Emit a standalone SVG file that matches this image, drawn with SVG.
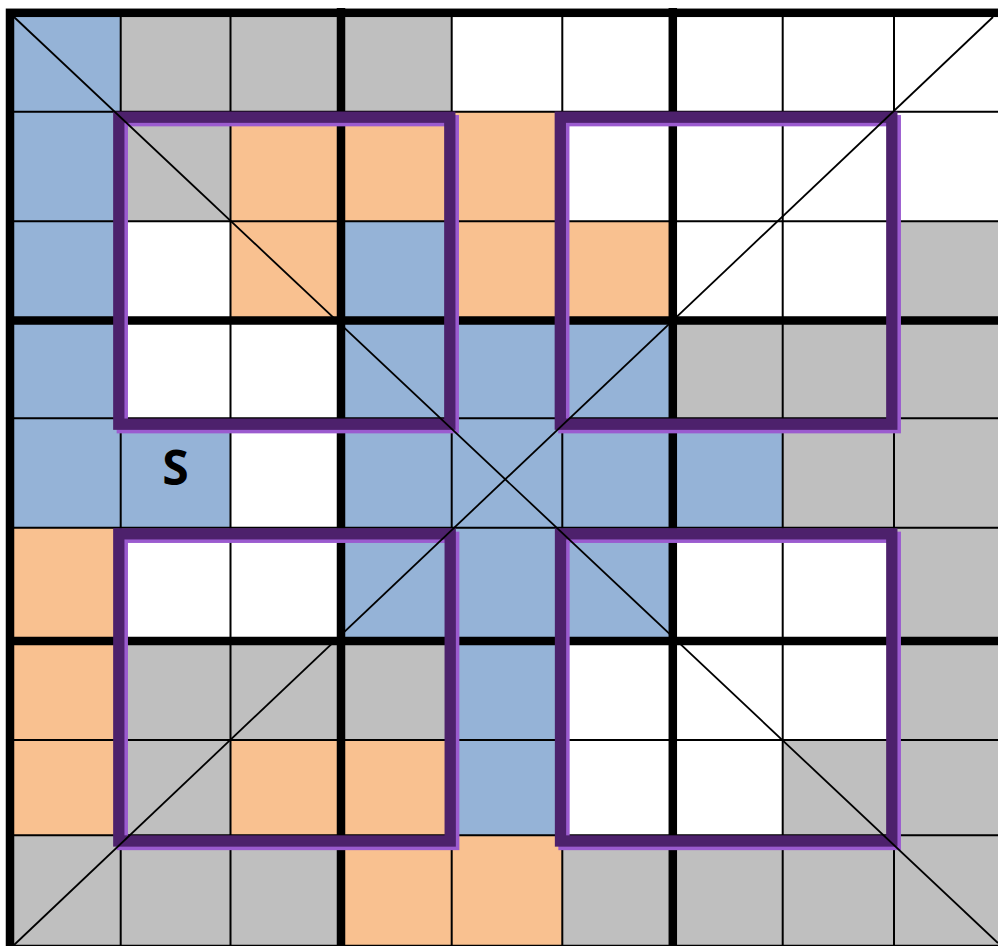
<svg xmlns="http://www.w3.org/2000/svg" width="998" height="946" viewBox="0 0 998 946">
<style>
.w{fill:#FFFFFF}.g{fill:#BFBFBF}.b{fill:#95B3D7}.o{fill:#F9C190}
.thin{stroke:#000;stroke-width:2;fill:none}
.thick{stroke:#000;stroke-width:8.5;fill:none}
.diag{stroke:#000;stroke-width:1.8;fill:none}
.pl{fill:none;stroke:#9B5BCF;stroke-width:11.3}
.pd{fill:none;stroke:#4D216C;stroke-width:11.3}
.lbl{font-family:"Open Sans","Liberation Sans",sans-serif;font-weight:700;font-size:48px;fill:#000}
</style>
<rect x="0" y="0" width="998" height="946" fill="#FFFFFF"/>
<g id="cells">
<!-- row 0 -->
<rect class="b" x="10" y="12.8" width="110.7" height="98.9"/>
<rect class="g" x="120.7" y="12.8" width="109.8" height="98.9"/>
<rect class="g" x="230.5" y="12.8" width="110.5" height="98.9"/>
<rect class="g" x="341" y="12.8" width="110.7" height="98.9"/>
<!-- row 1 -->
<rect class="b" x="10" y="111.7" width="110.7" height="109.6"/>
<rect class="g" x="120.7" y="111.7" width="109.8" height="109.6"/>
<rect class="o" x="230.5" y="111.7" width="110.5" height="109.6"/>
<rect class="o" x="341" y="111.7" width="110.7" height="109.6"/>
<rect class="o" x="451.7" y="111.7" width="110.6" height="109.6"/>
<!-- row 2 -->
<rect class="b" x="10" y="221.3" width="110.7" height="99.2"/>
<rect class="o" x="230.5" y="221.3" width="110.5" height="99.2"/>
<rect class="b" x="341" y="221.3" width="110.7" height="99.2"/>
<rect class="o" x="451.7" y="221.3" width="110.6" height="99.2"/>
<rect class="o" x="562.3" y="221.3" width="110.5" height="99.2"/>
<rect class="g" x="894" y="221.3" width="110" height="99.2"/>
<!-- row 3 -->
<rect class="b" x="10" y="320.5" width="110.7" height="97.8"/>
<rect class="b" x="341" y="320.5" width="110.7" height="97.8"/>
<rect class="b" x="451.7" y="320.5" width="110.6" height="97.8"/>
<rect class="b" x="562.3" y="320.5" width="110.5" height="97.8"/>
<rect class="g" x="672.8" y="320.5" width="109.9" height="97.8"/>
<rect class="g" x="782.7" y="320.5" width="111.3" height="97.8"/>
<rect class="g" x="894" y="320.5" width="110" height="97.8"/>
<!-- row 4 -->
<rect class="b" x="10" y="418.3" width="110.7" height="109.4"/>
<rect class="b" x="120.7" y="418.3" width="109.8" height="109.4"/>
<rect class="b" x="341" y="418.3" width="110.7" height="109.4"/>
<rect class="b" x="451.7" y="418.3" width="110.6" height="109.4"/>
<rect class="b" x="562.3" y="418.3" width="110.5" height="109.4"/>
<rect class="b" x="672.8" y="418.3" width="109.9" height="109.4"/>
<rect class="g" x="782.7" y="418.3" width="111.3" height="109.4"/>
<rect class="g" x="894" y="418.3" width="110" height="109.4"/>
<!-- row 5 -->
<rect class="o" x="10" y="527.7" width="110.7" height="113.3"/>
<rect class="b" x="341" y="527.7" width="110.7" height="113.3"/>
<rect class="b" x="451.7" y="527.7" width="110.6" height="113.3"/>
<rect class="b" x="562.3" y="527.7" width="110.5" height="113.3"/>
<rect class="g" x="894" y="527.7" width="110" height="113.3"/>
<!-- row 6 -->
<rect class="o" x="10" y="641" width="110.7" height="99"/>
<rect class="g" x="120.7" y="641" width="109.8" height="99"/>
<rect class="g" x="230.5" y="641" width="110.5" height="99"/>
<rect class="g" x="341" y="641" width="110.7" height="99"/>
<rect class="b" x="451.7" y="641" width="110.6" height="99"/>
<rect class="g" x="894" y="641" width="110" height="99"/>
<!-- row 7 -->
<rect class="o" x="10" y="740" width="110.7" height="95.3"/>
<rect class="g" x="120.7" y="740" width="109.8" height="95.3"/>
<rect class="o" x="230.5" y="740" width="110.5" height="95.3"/>
<rect class="o" x="341" y="740" width="110.7" height="95.3"/>
<rect class="b" x="451.7" y="740" width="110.6" height="95.3"/>
<rect class="g" x="782.7" y="740" width="111.3" height="95.3"/>
<rect class="g" x="894" y="740" width="110" height="95.3"/>
<!-- row 8 -->
<rect class="g" x="10" y="835.3" width="110.7" height="113"/>
<rect class="g" x="120.7" y="835.3" width="109.8" height="113"/>
<rect class="g" x="230.5" y="835.3" width="110.5" height="113"/>
<rect class="o" x="341" y="835.3" width="110.7" height="113"/>
<rect class="o" x="451.7" y="835.3" width="110.6" height="113"/>
<rect class="g" x="562.3" y="835.3" width="110.5" height="113"/>
<rect class="g" x="672.8" y="835.3" width="109.9" height="113"/>
<rect class="g" x="782.7" y="835.3" width="111.3" height="113"/>
<rect class="g" x="894" y="835.3" width="110" height="113"/>
</g>
<g id="grid-lines">
<path class="thin" d="M120.7 10V950M230.5 10V950M451.7 10V950M562.3 10V950M782.7 10V950M894 10V950"/>
<path class="thin" d="M6 111.7H1008M6 221.3H1008M6 418.3H1008M6 527.7H1008M6 740H1008M6 835.3H1008"/>
<path class="thick" d="M341 8V953M672.8 8V953M6 320.5H1008M6 641H1008"/>
<rect class="thick" x="10" y="12.8" width="994" height="936.2"/>
</g>
<g id="box-top-left">
<rect class="pl" x="122.3" y="120.7" width="331" height="307"/>
<rect class="pd" x="118.8" y="117.2" width="331" height="307"/>
</g>
<g id="box-top-right">
<rect class="pl" x="563.8" y="120.7" width="331.5" height="307"/>
<rect class="pd" x="560.3" y="117.2" width="331.5" height="307"/>
</g>
<g id="box-bottom-left">
<rect class="pl" x="122.3" y="537.3" width="331.4" height="307.2"/>
<rect class="pd" x="118.8" y="533.8" width="331.4" height="307.2"/>
</g>
<g id="box-bottom-right">
<rect class="pl" x="564" y="537.3" width="331.3" height="307.2"/>
<rect class="pd" x="560.5" y="533.8" width="331.3" height="307.2"/>
</g>
<g id="diagonals">
<line class="diag" x1="14" y1="17" x2="998" y2="943"/>
<line class="diag" x1="993" y1="17" x2="14" y2="945"/>
</g>
<g id="label-s">
<text class="lbl" x="175.5" y="485" text-anchor="middle">S</text>
</g>
</svg>
